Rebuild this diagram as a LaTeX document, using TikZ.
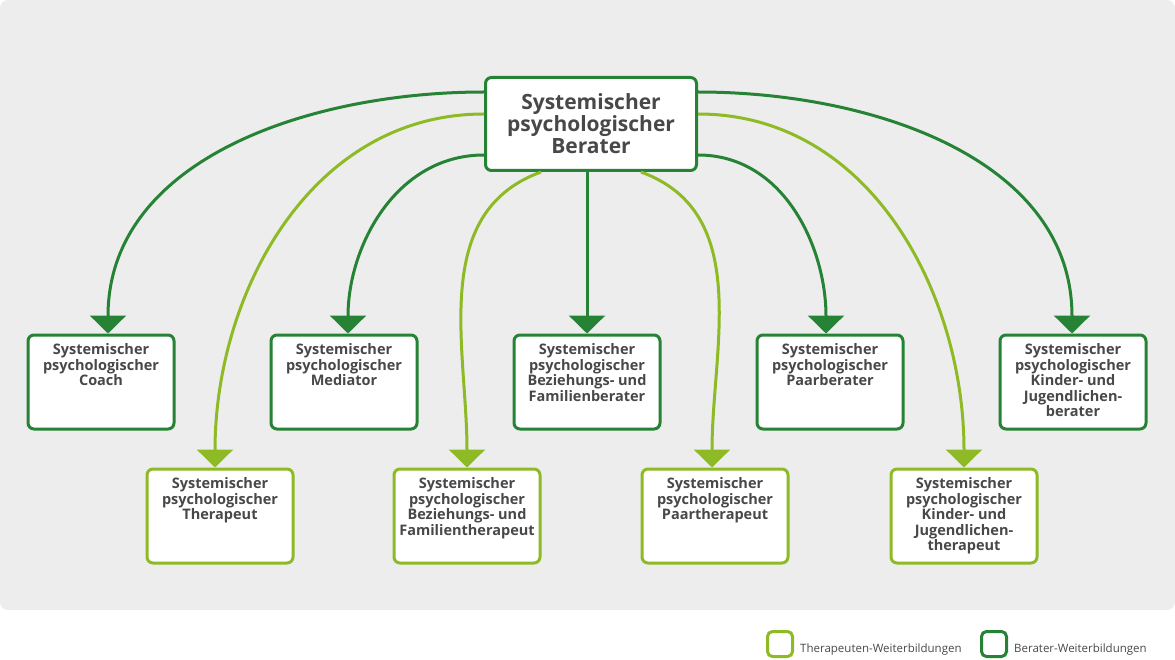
\documentclass[tikz,border=0pt]{standalone}
\usepackage{fontspec}
\setmainfont{Open Sans}
\usetikzlibrary{arrows.meta,positioning}
\definecolor{dgreen}{RGB}{38,130,52}
\definecolor{lgreen}{RGB}{141,186,37}
\definecolor{bggray}{RGB}{237,237,237}
\definecolor{txtgray}{RGB}{72,72,72}
\tikzset{
  box/.style={draw=#1,line width=3pt,rounded corners=6pt,fill=white,minimum width=146pt,minimum height=94pt,inner sep=0pt},
  lbl/.style={text=txtgray,font=\fontsize{14.5}{15.5}\selectfont\bfseries,align=center,anchor=north,inner sep=0pt},
  conn/.style={draw=#1,line width=3pt,-{Triangle[width=36pt,length=18pt]}},
}
\begin{document}
\begin{tikzpicture}[x=1pt,y=-1pt]
\useasboundingbox (0,0) rectangle (1175,660);
\fill[bggray,rounded corners=8pt] (0,0) rectangle (1175,610);

% top node
\node[box=dgreen,minimum width=211pt,minimum height=93pt] (top) at (591,124) {};
\node[text=txtgray,font=\fontsize{21}{22}\selectfont\bfseries,align=center] at (top) {Systemischer\\psychologischer\\Berater};

% upper row (Berater)
\foreach \n/\x/\t in {coach/101/{Systemischer\\psychologischer\\Coach},
  medi/344/{Systemischer\\psychologischer\\Mediator},
  bfb/587/{Systemischer\\psychologischer\\Beziehungs- und\\Familienberater},
  pb/830/{Systemischer\\psychologischer\\Paarberater},
  kjb/1073/{Systemischer\\psychologischer\\Kinder- und\\Jugendlichen-\\berater}}
{
  \node[box=dgreen] (\n) at (\x,382) {};
  \node[lbl] at ([yshift=-10pt]\n.north) {\t};
}

% lower row (Therapeuten)
\foreach \n/\x/\t in {ther/220/{Systemischer\\psychologischer\\Therapeut},
  bft/467/{Systemischer\\psychologischer\\Beziehungs- und\\Familientherapeut},
  pt/715/{Systemischer\\psychologischer\\Paartherapeut},
  kjt/964/{Systemischer\\psychologischer\\Kinder- und\\Jugendlichen-\\therapeut}}
{
  \node[box=lgreen] (\n) at (\x,516) {};
  \node[lbl] at ([yshift=-10pt]\n.north) {\t};
}

% connectors
\draw[conn=dgreen] ([yshift=32pt]top.west) to[out=180,in=90] ([xshift=7pt]coach.north);
\draw[conn=lgreen] ([yshift=10pt]top.west) to[out=180,in=90] ([xshift=-5pt]ther.north);
\draw[conn=dgreen] ([yshift=-31pt]top.west) to[out=180,in=90] ([xshift=4pt]medi.north);
\draw[conn=lgreen] ([xshift=-50pt]top.south) to[out=200,in=90] (bft.north);
\draw[conn=dgreen] ([xshift=-4pt]top.south) -- (bfb.north);
\draw[conn=lgreen] ([xshift=50pt]top.south) to[out=-20,in=90] ([xshift=-3pt]pt.north);
\draw[conn=dgreen] ([yshift=-31pt]top.east) to[out=0,in=90] ([xshift=-4pt]pb.north);
\draw[conn=lgreen] ([yshift=10pt]top.east) to[out=0,in=90] (kjt.north);
\draw[conn=dgreen] ([yshift=32pt]top.east) to[out=0,in=90] ([xshift=-1pt]kjb.north);

% legend
\node[draw=lgreen,line width=3pt,rounded corners=5pt,minimum size=25pt] (legT) at (780,644) {};
\node[right=6pt of legT,text=txtgray,font=\fontsize{11.5}{12}\selectfont,inner sep=0pt,yshift=-6pt] {Therapeuten-Weiterbildungen};
\node[draw=dgreen,line width=3pt,rounded corners=5pt,minimum size=25pt] (legB) at (994,644) {};
\node[right=6pt of legB,text=txtgray,font=\fontsize{11.5}{12}\selectfont,inner sep=0pt,yshift=-6pt] {Berater-Weiterbildungen};
\end{tikzpicture}
\end{document}
